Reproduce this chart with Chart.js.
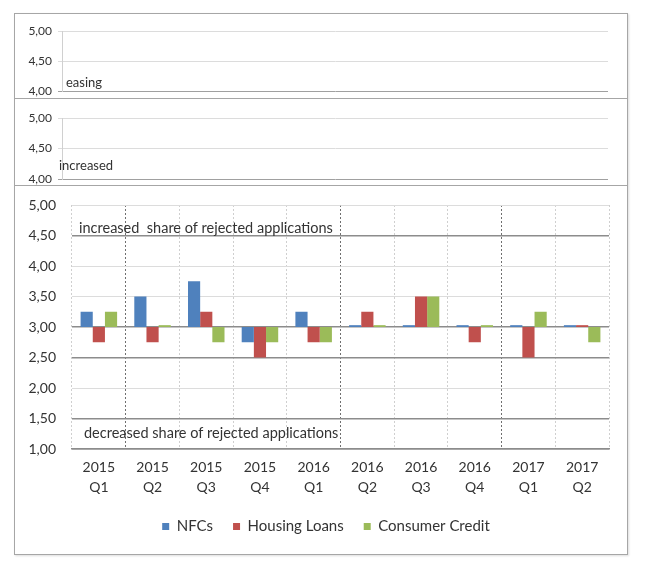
<!DOCTYPE html>
<html>
<head>
<meta charset="utf-8">
<script src="https://cdn.jsdelivr.net/npm/chart.js@4.4.1/dist/chart.umd.min.js"></script>
<style>
  body { margin: 0; background: #fff; }
  #wrap { position: relative; width: 652px; height: 564px; }
  #frame { position: absolute; left: 14px; top: 13px; width: 614px; height: 542px;
           box-sizing: border-box; border: 1px solid #a6a6a6; box-shadow: 1px 1px 2px #ddd; }
  .divider { position: absolute; left: 14px; width: 614px; height: 0; border-top: 1px solid #a6a6a6; }
  canvas { position: absolute; left: 0; }
</style>
</head>
<body>
<div id="wrap">
  <div id="frame"></div>
  <div class="divider" style="top:98px"></div>
  <div class="divider" style="top:185px"></div>
  <canvas id="panel1" width="652" height="84" style="top:14px"></canvas>
  <canvas id="panel2" width="652" height="85" style="top:100px"></canvas>
  <canvas id="mainChart" width="652" height="366" style="top:187px"></canvas>
</div>
<script>
const quarters = [['2015', 'Q1'], ['2015', 'Q2'], ['2015', 'Q3'], ['2015', 'Q4'], ['2016', 'Q1'],
                  ['2016', 'Q2'], ['2016', 'Q3'], ['2016', 'Q4'], ['2017', 'Q1'], ['2017', 'Q2']];
const nfcs = [3.25, 3.50, 3.75, 2.75, 3.25, 3.03, 3.03, 3.03, 3.03, 3.03];
const housingLoans = [2.75, 2.75, 3.25, 2.50, 2.75, 3.25, 3.50, 2.75, 2.50, 3.03];
const consumerCredit = [3.25, 3.03, 2.75, 2.75, 2.75, 3.03, 3.50, 3.03, 3.25, 2.75];
const baseLine = 3.0;
const darkYLines = [1.0, 1.5, 2.5, 3.0, 4.5];   // heavier horizontal rules
const darkXLines = [1, 5, 8];                  // darker dotted separators

const FONT = 'Lato, "Open Sans", sans-serif';
const fmt = v => Number(v).toFixed(2).replace('.', ',');

// fixed axis width, no extra label overflow so layout padding decides the plot box
const fixWidth = w => s => { s.width = w; s.paddingTop = 0; s.paddingBottom = 0; };

// text label plugin, positions taken from the y scale
function labelPlugin(items) {
    return {
        id: 'labels',
        afterDraw(chart) {
            const ctx = chart.ctx;
            const y = chart.scales.y;
            ctx.save();
            items.forEach(it => {
                ctx.font = it.font;
                ctx.fillStyle = '#333';
                ctx.textBaseline = 'alphabetic';
                ctx.fillText(it.text, chart.chartArea.left + it.dx, y.getPixelForValue(it.value) + it.dy);
            });
            ctx.restore();
        }
    };
}

function smallPanel(id, text, dx, dy, padTop, padBottom) {
    new Chart(document.getElementById(id).getContext('2d'), {
        type: 'bar',
        data: { labels: quarters.map(q => q.join(' ')), datasets: [{ data: [] }] },
        options: {
            responsive: false,
            animation: false,
            layout: { padding: { top: padTop, bottom: padBottom, left: 0, right: 44 } },
            plugins: { legend: { display: false }, tooltip: { enabled: false } },
            scales: {
                x: { display: false },
                y: {
                    min: 4, max: 5,
                    afterFit: fixWidth(62),
                    border: { color: '#d0d0d0' },
                    grid: {
                        color: c => c.tick && c.tick.value === 4 ? '#a0a0a0' : '#dcdcdc',
                        tickLength: 4
                    },
                    ticks: { stepSize: 0.5, padding: 6, color: '#333', font: { family: FONT, size: 12 }, callback: fmt }
                }
            }
        },
        plugins: [labelPlugin([{ text: text, value: 4, dx: dx, dy: dy, font: '13px ' + FONT }])]
    });
}

smallPanel('panel1', 'easing', 4, -4, 17, 7);
smallPanel('panel2', 'increased', -3, -9, 18, 6);

const floating = arr => arr.map(v => [baseLine, v]);

new Chart(document.getElementById('mainChart').getContext('2d'), {
    type: 'bar',
    data: {
        labels: quarters,
        datasets: [
            { label: 'NFCs', data: floating(nfcs), backgroundColor: '#4f81bd' },
            { label: 'Housing Loans', data: floating(housingLoans), backgroundColor: '#c0504d' },
            { label: 'Consumer Credit', data: floating(consumerCredit), backgroundColor: '#9bbb59' }
        ]
    },
    options: {
        responsive: false,
        animation: false,
        categoryPercentage: 0.68,
        barPercentage: 1.0,
        layout: { padding: { top: 18, bottom: 9, left: 0, right: 0 } },
        plugins: {
            tooltip: { enabled: false },
            legend: {
                position: 'bottom',
                labels: {
                    boxWidth: 7, boxHeight: 7, padding: 20, color: '#333',
                    font: { family: FONT, size: 15 }
                }
            }
        },
        scales: {
            x: {
                afterFit: s => { s.height = 50; },
                grid: {
                    offset: true,
                    drawTicks: false,
                    color: c => darkXLines.includes(c.index) ? '#6f6f6f' : '#cfcfcf',
                    lineWidth: 1
                },
                border: { color: '#8c8c8c', width: 1.5, dash: [2, 2] },
                ticks: { padding: 9, color: '#333', font: { family: FONT, size: 14, lineHeight: 1.4 }, maxRotation: 0 }
            },
            y: {
                min: 1, max: 5,
                afterFit: fixWidth(72),
                border: { display: false },
                grid: {
                    drawTicks: false,
                    color: c => darkYLines.includes(c.tick.value) ? '#8c8c8c' : '#dcdcdc',
                    lineWidth: c => darkYLines.includes(c.tick.value) ? 1.6 : 1
                },
                ticks: { stepSize: 0.5, padding: 16, color: '#333', font: { family: FONT, size: 14 }, callback: fmt }
            },
            // empty right-hand spacer so the legend stays centred on the whole canvas
            yRight: {
                position: 'right',
                min: 1, max: 5,
                afterFit: fixWidth(43),
                border: { display: false },
                grid: { display: false },
                ticks: { display: false }
            }
        }
    },
    plugins: [
        labelPlugin([
            { text: 'increased  share of rejected applications', value: 4.5, dx: 7, dy: -3, font: '14.5px ' + FONT },
            { text: 'decreased share of rejected applications', value: 1.5, dx: 12, dy: 19, font: '14.5px ' + FONT }
        ])
    ]
});
</script>
</body>
</html>
